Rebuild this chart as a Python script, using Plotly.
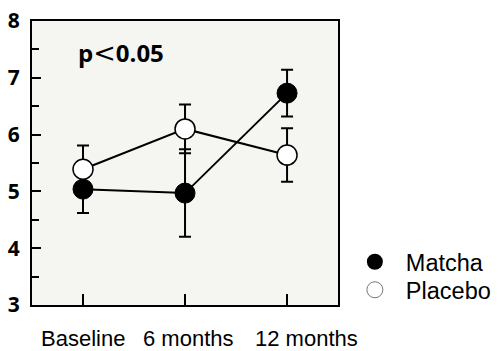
import plotly.graph_objects as go

categories = ["Baseline", "6 months", "12 months"]
matcha = [5.04, 4.97, 6.73]
matcha_err = [0.42, 0.77, 0.41]
placebo = [5.39, 6.10, 5.64]
placebo_err = [0.42, 0.43, 0.47]
y_ticks = [3, 4, 5, 6, 7, 8]

W, H = 498, 351
L, R, T, B = 32, 2, 21, 46
pw = W - L - R
ph = H - T - B
dom = (349 - L) / pw


def px_x(x):
    return (x - L) / pw


def px_y(y):
    return (H - B - y) / ph


fig = go.Figure()
xs = [0, 1, 2]
fig.add_trace(go.Scatter(
    x=xs, y=matcha, mode="lines+markers", showlegend=False,
    line=dict(color="black", width=2),
    marker=dict(size=20, color="black", line=dict(color="black", width=1)),
    error_y=dict(type="data", array=matcha_err, color="black", thickness=2, width=6),
))
fig.add_trace(go.Scatter(
    x=xs, y=placebo, mode="lines+markers", showlegend=False,
    line=dict(color="black", width=2),
    marker=dict(size=20, color="white", line=dict(color="black", width=1.5)),
    error_y=dict(type="data", array=placebo_err, color="black", thickness=2, width=6),
))
# legend entries
fig.add_trace(go.Scatter(x=[None], y=[None], mode="markers", name="Matcha", legend="legend",
                         marker=dict(size=18, color="black")))
fig.add_trace(go.Scatter(x=[None], y=[None], mode="markers", name="Placebo", legend="legend2",
                         marker=dict(size=16, color="white", line=dict(color="#777", width=1))))

leg_common = dict(xanchor="left", yanchor="middle",
                  font=dict(family="Liberation Sans, Arial", size=23.5, color="black"),
                  bgcolor="rgba(0,0,0,0)", itemwidth=52)

# category label centres (px) - labels in the reference sit slightly right of their ticks
label_px = [85, 194, 316]
annotations = [dict(
    x=px_x(78), y=px_y(53), xref="paper", yref="paper", showarrow=False,
    xanchor="left", yanchor="middle",
    text="<b>p</b><span style='font-family:DejaVu Sans;font-size:27px;font-weight:normal'>&lt;</span><b>0.05</b>",
    font=dict(family="Open Sans", size=24, color="black"),
)]
for lab, cx in zip(categories, label_px):
    annotations.append(dict(
        x=px_x(cx), y=px_y(338), xref="paper", yref="paper", showarrow=False,
        xanchor="center", yanchor="middle", text=lab,
        font=dict(family="Liberation Sans, Arial", size=22, color="black"),
    ))

fig.update_layout(
    width=W, height=H,
    margin=dict(l=L, r=R, t=T, b=B),
    paper_bgcolor="white",
    plot_bgcolor="#f5f5f1",
    showlegend=True,
    legend=dict(x=px_x(355), y=px_y(262), **leg_common),
    legend2=dict(x=px_x(355), y=px_y(290), **leg_common),
    xaxis=dict(
        domain=[0, dom],
        range=[-0.5, 2.5],
        tickvals=xs, ticktext=categories, showticklabels=False,
        ticks="inside", ticklen=11, tickwidth=2, tickcolor="black",
        showline=True, linecolor="black", linewidth=2, mirror=True,
        showgrid=False, zeroline=False, automargin=False,
    ),
    yaxis=dict(
        range=[3, 8],
        tickvals=y_ticks,
        ticks="inside", ticklen=9, tickwidth=2, tickcolor="black",
        minor=dict(dtick=0.5, ticks="inside", ticklen=7, tickwidth=2, tickcolor="black", showgrid=False),
        showline=True, linecolor="black", linewidth=2, mirror=True,
        showgrid=False, zeroline=False, automargin=False,
        tickfont=dict(family="Open Sans", size=21, color="black", weight="bold"),
        ticklabelstandoff=6,
    ),
    annotations=annotations,
)

fig.write_html("out.html", config={"displayModeBar": False},
               post_script="document.body.style.margin='0px';document.body.style.overflow='hidden';")
